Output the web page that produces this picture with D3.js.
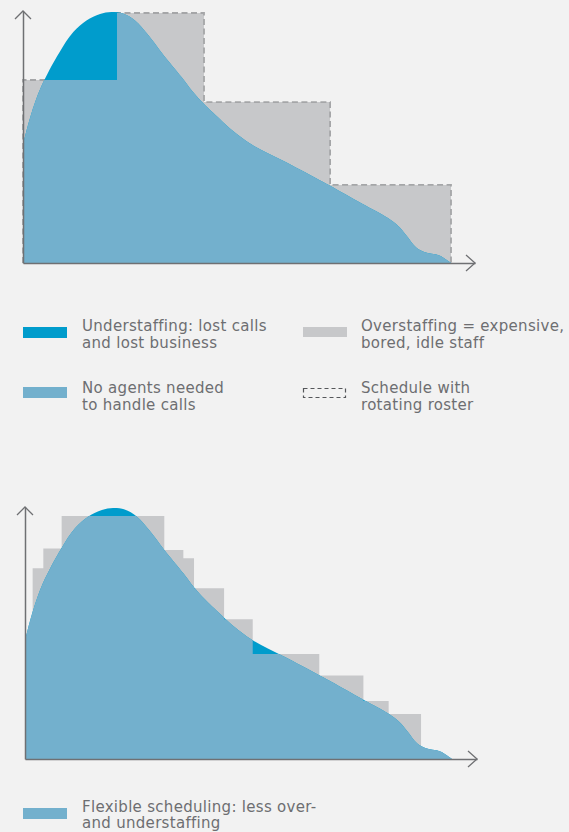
<!DOCTYPE html>
<html>
<head>
<meta charset="utf-8">
<script src="https://cdn.jsdelivr.net/npm/d3@7"></script>
<style>
body { margin: 0; background: #f2f2f2; }
svg { display: block; }
</style>
</head>
<body>
<div id="mainDiv"></div>
<script>
'use strict';

var myApp = {};

// call demand over the day (hour, % of peak)
myApp.hours  = [0, 0.43, 1.01, 2.04, 2.82, 3.56, 4.32, 4.95, 5.6, 6.28, 7.0, 7.81, 8.9, 9.5, 10.11, 11.19, 11.78, 12.8, 14.5, 16.54, 17.22, 19.02, 20.44, 21.0, 21.5, 22.05, 22.5, 23.35, 24];
myApp.demand = [47.2, 58.7, 70.1, 83.9, 92.0, 96.6, 99.2, 100, 99.4, 96.6, 91.0, 83.5, 74.0, 68.4, 63.6, 56.3, 52.6, 47.3, 41.0, 33.4, 30.8, 23.6, 18.0, 15.0, 11.0, 6.2, 4.4, 3.0, 0];

// rotating roster (top chart)
myApp.rosterStarts = [0, 5.27, 10.15, 17.22];
myApp.rosterLevels = [72.9, 99.6, 64.1, 31.1];
myApp.rosterEnd = 24;

// flexible scheduling (bottom chart)
myApp.flexStarts = [0.43, 1.03, 2.06, 7.83, 8.90, 9.50, 11.19, 12.80, 16.54, 19.02, 20.44];
myApp.flexLevels = [76.0, 83.9, 96.8, 83.3, 80.0, 68.0, 55.7, 41.8, 33.3, 23.1, 17.9];
myApp.flexEnd = 22.26;

myApp.legendTop = [
    ["Understaffing: lost calls", "and lost business"],
    ["Overstaffing = expensive,", "bored, idle staff"],
    ["No agents needed", "to handle calls"],
    ["Schedule with", "rotating roster"]
];
myApp.legendBottom = ["Flexible scheduling: less over-", "and understaffing"];

myApp.colors = {
    under: "#009ccc",
    need: "#73b0cd",
    over: "#c7c8ca",
    dash: "#a5a6a8",
    axis: "#6f7073",
    text: "#6d6e71"
};

myApp.stepData = function (starts, levels, end)
{
    var pts = [];
    for (var i = 0; i < starts.length; i++)
    {
        pts.push({h: starts[i], v: levels[i]});
    }
    pts.push({h: end, v: levels[levels.length - 1]});
    return pts;
}

myApp.drawChart = function (svg, id, o)
{
    var c = myApp.colors;
    var x = d3.scaleLinear().domain([0, 24]).range([o.left, o.right]);
    var y = d3.scaleLinear().domain([0, 100]).range([o.bottom, o.top]);

    var curve = myApp.hours.map(function (h, i) { return {h: h, v: myApp.demand[i]}; });
    var steps = myApp.stepData(o.starts, o.levels, o.end);

    var stepArea = d3.area()
        .curve(d3.curveStepAfter)
        .x(function (d) { return x(d.h); })
        .y0(y(0))
        .y1(function (d) { return y(d.v); });

    var demandArea = d3.area()
        .curve(d3.curveCatmullRom.alpha(0.5))
        .x(function (d) { return x(d.h); })
        .y0(y(0))
        .y1(function (d) { return y(d.v); });

    var g = svg.append("g");

    // scheduled staff
    g.append("path")
        .attr("d", stepArea(steps))
        .attr("fill", c.over);

    if (o.dashed)
    {
        var stepLine = d3.line()
            .curve(d3.curveStepAfter)
            .x(function (d) { return x(d.h); })
            .y(function (d) { return y(d.v); });
        var outline = [{h: 0, v: 0}].concat(steps);
        g.append("path")
            .attr("d", stepLine(outline) + "L" + x(o.end) + "," + y(0))
            .attr("fill", "none")
            .attr("stroke", c.dash)
            .attr("stroke-width", 1.8)
            .attr("stroke-dasharray", "6,3.5");
    }

    // clip = covered by schedule (or outside the scheduled span)
    var clip = svg.append("defs").append("clipPath").attr("id", id);
    clip.append("path").attr("d", stepArea(steps));
    if (o.starts[0] > 0)
    {
        clip.append("rect").attr("x", x(0) - 2).attr("y", y(100) - 5)
            .attr("width", x(o.starts[0]) - x(0) + 2).attr("height", y(0) - y(100) + 5);
    }
    if (o.end < 24)
    {
        clip.append("rect").attr("x", x(o.end)).attr("y", y(100) - 5)
            .attr("width", x(24) - x(o.end) + 2).attr("height", y(0) - y(100) + 5);
    }

    g.append("path")
        .attr("d", demandArea(curve))
        .attr("fill", c.under);

    g.append("path")
        .attr("d", demandArea(curve))
        .attr("fill", c.need)
        .attr("clip-path", "url(#" + id + ")");

    // axes
    var xa = d3.scaleLinear().domain([0, 1]).range([o.left, o.axisRight]);
    var ya = d3.scaleLinear().domain([0, 1]).range([o.bottom, o.axisTop]);

    var gx = g.append("g")
        .attr("transform", "translate(0," + o.bottom + ")")
        .call(d3.axisBottom(xa).ticks(0).tickSizeOuter(0));
    var gy = g.append("g")
        .attr("transform", "translate(" + o.left + ",0)")
        .call(d3.axisLeft(ya).ticks(0).tickSizeOuter(0));
    [gx, gy].forEach(function (a) {
        a.select(".domain").attr("stroke", c.axis).attr("stroke-width", 1.5);
    });

    g.append("path")
        .attr("d", "M" + (o.left - 8) + "," + (o.axisTop + 8) + "L" + o.left + "," + o.axisTop + "L" + (o.left + 8) + "," + (o.axisTop + 8))
        .attr("fill", "none").attr("stroke", c.axis).attr("stroke-width", 1.3);
    g.append("path")
        .attr("d", "M" + (o.axisRight - 9) + "," + (o.bottom - 8) + "L" + o.axisRight + "," + o.bottom + "L" + (o.axisRight - 9) + "," + (o.bottom + 8))
        .attr("fill", "none").attr("stroke", c.axis).attr("stroke-width", 1.3);
}

myApp.legendText = function (svg, x, y, lines, lh)
{
    var t = svg.append("text")
        .attr("x", x)
        .attr("y", y)
        .attr("font-family", "DejaVu Sans")
        .attr("font-size", "15px")
        .attr("letter-spacing", "0.3px")
        .attr("fill", myApp.colors.text);
    lines.forEach(function (l, i) {
        t.append("tspan").attr("x", x).attr("y", y + i * (lh || 17.5)).text(l);
    });
}

myApp.drawLegends = function (svg)
{
    var c = myApp.colors;
    var L = myApp.legendTop;

    svg.append("rect").attr("x", 23).attr("y", 327).attr("width", 44).attr("height", 11).attr("fill", c.under);
    myApp.legendText(svg, 82, 330.5, L[0]);

    svg.append("rect").attr("x", 303).attr("y", 327).attr("width", 44).attr("height", 10).attr("fill", c.over);
    myApp.legendText(svg, 361, 330.5, L[1]);

    svg.append("rect").attr("x", 23).attr("y", 387).attr("width", 44).attr("height", 11).attr("fill", c.need);
    myApp.legendText(svg, 82, 392.5, L[2]);

    svg.append("rect").attr("x", 303.5).attr("y", 388.5).attr("width", 42).attr("height", 9)
        .attr("fill", "none").attr("stroke", "#55575a").attr("stroke-width", 1.2)
        .attr("stroke-dasharray", "4,3");
    myApp.legendText(svg, 361, 392.5, L[3]);

    svg.append("rect").attr("x", 23).attr("y", 808).attr("width", 44).attr("height", 11).attr("fill", c.need);
    myApp.legendText(svg, 82, 811.5, myApp.legendBottom, 16.5);
}

myApp.run = function ()
{
    var svg = d3.select("#mainDiv").append("svg")
        .attr("width", 569)
        .attr("height", 832);

    myApp.drawChart(svg, "clipTop", {
        left: 23, right: 451, top: 12, bottom: 263, axisTop: 11, axisRight: 475,
        starts: myApp.rosterStarts, levels: myApp.rosterLevels, end: myApp.rosterEnd, dashed: true
    });

    myApp.drawChart(svg, "clipBottom", {
        left: 25, right: 452, top: 508, bottom: 759, axisTop: 507, axisRight: 477,
        starts: myApp.flexStarts, levels: myApp.flexLevels, end: myApp.flexEnd, dashed: false
    });

    myApp.drawLegends(svg);
}

window.onload = myApp.run;
</script>
</body>
</html>
